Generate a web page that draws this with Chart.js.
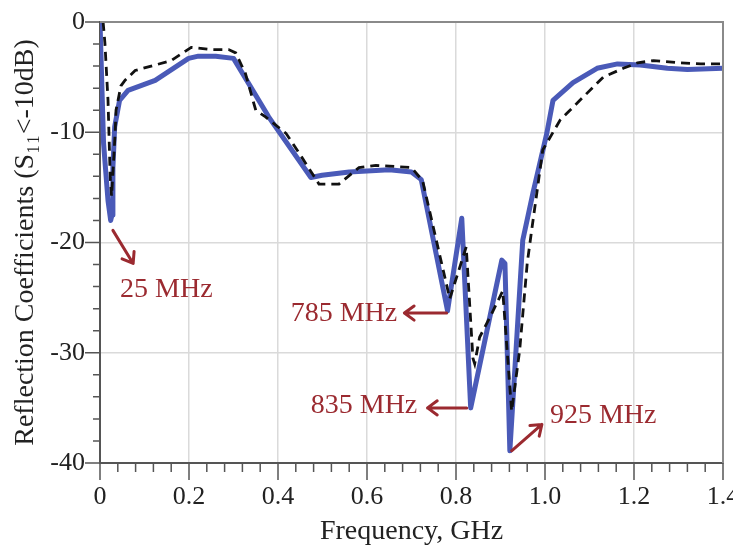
<!DOCTYPE html>
<html>
<head>
<meta charset="utf-8">
<script src="https://cdn.jsdelivr.net/npm/chart.js@4.4.1/dist/chart.umd.min.js"></script>
<style>
  html, body { margin: 0; padding: 0; background: #fff; }
  #wrap { width: 733px; height: 552px; position: relative; }
</style>
</head>
<body>
<div id="wrap"><canvas id="c" width="733" height="552"></canvas></div>
<script>
// ---- data ----
const simFreq = [0, 0.008, 0.018, 0.024, 0.027, 0.029, 0.033, 0.044, 0.063, 0.124, 0.199, 0.221, 0.26, 0.300, 0.379, 0.474, 0.499, 0.56, 0.65, 0.70, 0.722, 0.781, 0.813, 0.833, 0.903, 0.91, 0.921, 0.95, 0.973, 1.004, 1.018, 1.063, 1.117, 1.163, 1.214, 1.275, 1.32, 1.40];
const simS11  = [0, -11, -16.2, -18, -17.5, -13.2, -9.5, -7.1, -6.2, -5.3, -3.3, -3.1, -3.1, -3.3, -8.6, -14.1, -13.9, -13.6, -13.4, -13.6, -14.3, -26.2, -17.8, -35, -21.6, -21.9, -38.9, -19.8, -15.5, -10.1, -7.1, -5.5, -4.2, -3.8, -3.9, -4.2, -4.3, -4.2];

const measFreq = [0.007, 0.011, 0.018, 0.023, 0.026, 0.030, 0.034, 0.036, 0.047, 0.056, 0.079, 0.16, 0.205, 0.25, 0.289, 0.305, 0.327, 0.35, 0.372, 0.418, 0.454, 0.492, 0.537, 0.582, 0.62, 0.70, 0.725, 0.786, 0.823, 0.838, 0.842, 0.853, 0.876, 0.905, 0.925, 0.943, 0.96, 0.97, 0.995, 1.034, 1.086, 1.131, 1.176, 1.208, 1.244, 1.305, 1.35, 1.40];
const measS11  = [0, -1.9, -7.1, -14.1, -15.8, -13, -10.1, -8, -5.8, -5.3, -4.4, -3.5, -2.3, -2.5, -2.5, -2.8, -4.7, -8.0, -8.6, -10.1, -12.3, -14.7, -14.7, -13.2, -13.0, -13.2, -14.4, -25.1, -20.4, -30.5, -31, -28.6, -26.8, -24.4, -35.3, -29.8, -21.9, -18.9, -11.6, -8.9, -6.8, -5, -4.2, -3.7, -3.5, -3.7, -3.8, -3.8];

const xTickLabels = ['0', '0.2', '0.4', '0.6', '0.8', '1.0', '1.2', '1.4'];
const yTickLabels = ['-40', '-30', '-20', '-10', '0'];

// annotations (data coordinates)
const annoText   = ['25 MHz', '785 MHz', '835 MHz', '925 MHz'];
const annoTextX  = [0.045, 0.668, 0.713, 1.011];
const annoTextY  = [-24.3, -26.45, -34.8, -35.7];
const annoAlign  = ['left', 'right', 'right', 'left'];
const arrowFromX = [0.029, 0.779, 0.824, 0.925];
const arrowFromY = [-18.9, -26.4, -35, -38.9];
const arrowToX   = [0.0745, 0.684, 0.736, 0.993];
const arrowToY   = [-21.9, -26.4, -35, -36.5];

const toXY = (xs, ys) => xs.map((x, i) => ({ x: x, y: ys[i] }));

const SERIF = '"Liberation Serif", "DejaVu Serif", serif';
const annoColor = '#9b2a30';

const framePlugin = {
  id: 'frame',
  afterDraw(chart) {
    const { ctx, chartArea: a } = chart;
    const xs = chart.scales.x, ys = chart.scales.y;
    ctx.save();
    ctx.strokeStyle = '#8a8a8a';
    ctx.lineWidth = 2;
    ctx.beginPath();
    ctx.moveTo(a.left, a.top);
    ctx.lineTo(a.right, a.top);
    ctx.lineTo(a.right, a.bottom);
    ctx.stroke();
    // outward tick marks: long at labelled ticks, short otherwise
    ctx.strokeStyle = '#555';
    ctx.lineWidth = 1.5;
    ctx.beginPath();
    xs.ticks.forEach((t, i) => {
      const px = xs.getPixelForValue(t.value);
      ctx.moveTo(px, a.bottom);
      ctx.lineTo(px, a.bottom + (i % 5 === 0 ? 17 : 9));
    });
    ys.ticks.forEach((t, i) => {
      const py = ys.getPixelForValue(t.value);
      ctx.moveTo(a.left, py);
      ctx.lineTo(a.left - (i % 5 === 0 ? 15 : 7), py);
    });
    ctx.stroke();
    ctx.restore();
  }
};

const annoPlugin = {
  id: 'anno',
  afterDraw(chart) {
    const { ctx } = chart;
    const xs = chart.scales.x, ys = chart.scales.y;
    ctx.save();
    ctx.strokeStyle = annoColor;
    ctx.fillStyle = annoColor;
    ctx.lineWidth = 3;
    ctx.lineCap = 'round';
    ctx.lineJoin = 'round';
    for (let i = 0; i < annoText.length; i++) {
      const x1 = xs.getPixelForValue(arrowFromX[i]), y1 = ys.getPixelForValue(arrowFromY[i]);
      const x2 = xs.getPixelForValue(arrowToX[i]),   y2 = ys.getPixelForValue(arrowToY[i]);
      const ang = Math.atan2(y2 - y1, x2 - x1);
      const hl = 12, ha = Math.PI / 5;
      ctx.beginPath();
      ctx.moveTo(x1, y1);
      ctx.lineTo(x2, y2);
      ctx.moveTo(x2 - hl * Math.cos(ang - ha), y2 - hl * Math.sin(ang - ha));
      ctx.lineTo(x2, y2);
      ctx.lineTo(x2 - hl * Math.cos(ang + ha), y2 - hl * Math.sin(ang + ha));
      ctx.stroke();
      ctx.font = '28px ' + SERIF;
      ctx.textAlign = annoAlign[i];
      ctx.textBaseline = 'middle';
      ctx.fillText(annoText[i], xs.getPixelForValue(annoTextX[i]), ys.getPixelForValue(annoTextY[i]));
    }
    ctx.restore();
  }
};

new Chart(document.getElementById('c'), {
  type: 'line',
  data: {
    datasets: [
      {
        label: 'Simulated',
        data: toXY(simFreq, simS11),
        borderColor: '#4a5ab8',
        borderWidth: 5,
        pointRadius: 0,
        tension: 0,
        borderJoinStyle: 'round',
        borderCapStyle: 'round',
        order: 1
      },
      {
        label: 'Measured',
        data: toXY(measFreq, measS11),
        borderColor: '#111111',
        borderWidth: 2.8,
        borderDash: [9, 6],
        pointRadius: 0,
        tension: 0,
        order: 0
      }
    ]
  },
  options: {
    responsive: false,
    animation: false,
    layout: { padding: { top: 22, right: 10, left: 0, bottom: 0 } },
    plugins: { legend: { display: false }, tooltip: { enabled: false } },
    scales: {
      x: {
        type: 'linear',
        min: 0, max: 1.4,
        afterBuildTicks(scale) {
          const t = [];
          for (let i = 0; i <= 35; i++) t.push({ value: Math.round(i * 4) / 100 });
          scale.ticks = t;
        },
        afterFit(scale) { scale.height = 89; scale.paddingLeft = 0; scale.paddingRight = 0; },
        ticks: {
          autoSkip: false, maxRotation: 0, padding: 19,
          color: '#222', font: { family: SERIF, size: 26 },
          callback(v, idx) { return idx % 5 === 0 ? xTickLabels[idx / 5] : ''; }
        },
        grid: {
          color: (c) => (c.index % 5 === 0 ? '#dadada' : 'rgba(0,0,0,0)'),
          lineWidth: 1.5,
          drawTicks: false
        },
        border: { color: '#555', width: 2 },
        title: {
          display: true, text: 'Frequency, GHz', color: '#222',
          font: { family: SERIF, size: 28 }, padding: { top: 0, bottom: 4 }
        }
      },
      y: {
        type: 'linear',
        min: -40, max: 0,
        afterBuildTicks(scale) {
          const t = [];
          for (let i = 0; i <= 20; i++) t.push({ value: -40 + i * 2 });
          scale.ticks = t;
        },
        afterFit(scale) { scale.width = 100; scale.paddingTop = 0; scale.paddingBottom = 0; },
        ticks: {
          autoSkip: false, padding: 15,
          color: '#222', font: { family: SERIF, size: 26 },
          callback(v, idx) { return idx % 5 === 0 ? yTickLabels[idx / 5] : ''; }
        },
        grid: {
          color: (c) => (c.index % 5 === 0 ? '#dadada' : 'rgba(0,0,0,0)'),
          lineWidth: 1.5,
          drawTicks: false
        },
        border: { color: '#555', width: 2 },
        title: {
          display: true, text: 'Reflection Coefficients (S\u2081\u2081<-10dB)', color: '#222',
          font: { family: SERIF, size: 28 }, padding: { top: 9, bottom: 0 }
        }
      }
    }
  },
  plugins: [framePlugin, annoPlugin]
});
</script>
</body>
</html>
